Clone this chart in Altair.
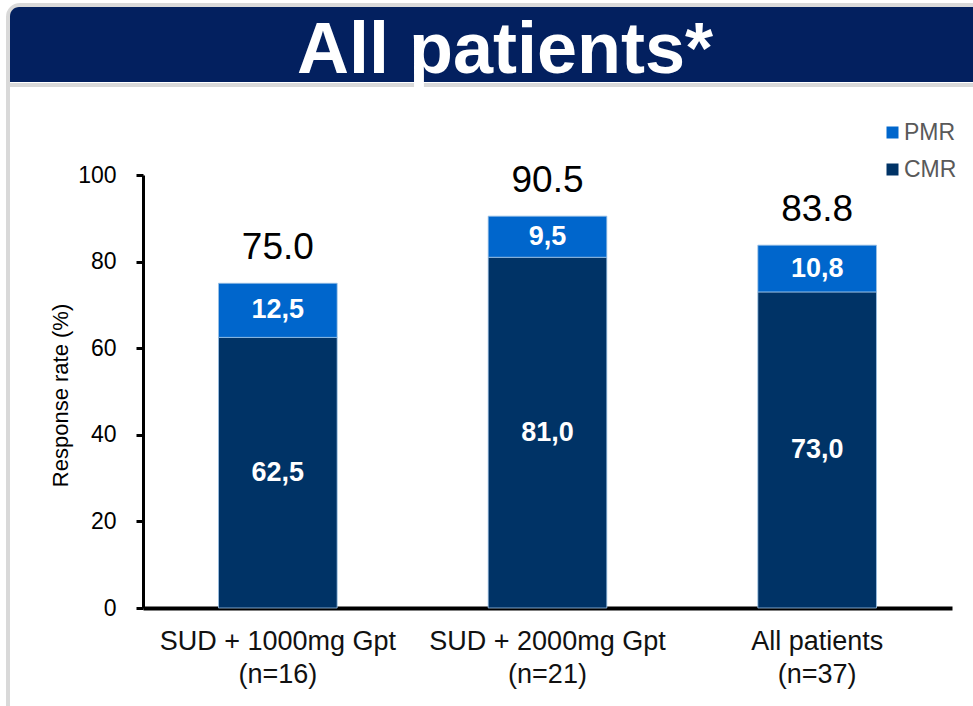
import altair as alt
import pandas as pd

# Response rates (%) per treatment group
group_names = ["SUD + 1000mg Gpt", "SUD + 2000mg Gpt", "All patients"]
group_n = [16, 21, 37]
cmr_values = [62.5, 81.0, 73.0]
pmr_values = [12.5, 9.5, 10.8]
response_types = ["PMR", "CMR"]
response_colors = ["#0066CC", "#003366"]
y_ticks = [0, 20, 40, 60, 80, 100]
header_text = "All patients*"

FONT = "Liberation Sans"
NAVY = "#03205F"
FRAME = "#D9D9D9"

group_keys = [f"{name}|(n={n})" for name, n in zip(group_names, group_n)]

rows = []
for key, cmr, pmr in zip(group_keys, cmr_values, pmr_values):
    rows.append({"group": key, "response": "CMR", "value": cmr, "lo": 0.0, "hi": cmr})
    rows.append({"group": key, "response": "PMR", "value": pmr, "lo": cmr, "hi": cmr + pmr})
segments = pd.DataFrame(rows)
segments["mid"] = (segments["lo"] + segments["hi"]) / 2
segments["label"] = segments["value"].map(lambda v: f"{v:.1f}".replace(".", ","))

totals = pd.DataFrame({
    "group": group_keys,
    "total": [c + p for c, p in zip(cmr_values, pmr_values)],
})
totals["label"] = totals["total"].map(lambda v: f"{v:.1f}")

x_enc = alt.X(
    "group:N",
    sort=group_keys,
    scale=alt.Scale(paddingInner=0.56, paddingOuter=0.28),
    axis=alt.Axis(
        title=None,
        labelExpr="split(datum.label, '|')",
        labelAngle=0,
        labelLimit=0,
        labelFont=FONT,
        labelFontSize=27,
        labelLineHeight=33,
        labelColor="#111111",
        labelPadding=20,
        ticks=False,
        domainColor="#000000",
        domainWidth=4,
        grid=False,
    ),
)

y_scale = alt.Scale(domain=[0, 100], nice=False, zero=True)

bars = alt.Chart(segments).mark_bar(stroke="#9DC3E6", strokeWidth=0.8).encode(
    x=x_enc,
    y=alt.Y(
        "lo:Q",
        scale=y_scale,
        axis=alt.Axis(
            title="Response rate (%)",
            titleFont=FONT,
            titleFontSize=22,
            titleFontWeight="normal",
            titleColor="#000000",
            titlePadding=5,
            titleY=220,
            values=y_ticks,
            labelFont=FONT,
            labelFontSize=23,
            labelColor="#000000",
            labelPadding=20,
            tickSize=7,
            tickWidth=3,
            tickColor="#000000",
            domainColor="#000000",
            domainWidth=3,
            grid=False,
        ),
    ),
    y2="hi:Q",
    color=alt.Color(
        "response:N",
        scale=alt.Scale(domain=response_types, range=response_colors),
        legend=alt.Legend(
            title=None,
            orient="none",
            legendX=738,
            legendY=-54,
            symbolType="square",
            symbolSize=144,
            symbolStrokeWidth=0,
            labelFont=FONT,
            labelFontSize=23,
            labelColor="#595959",
            labelOffset=0,
            rowPadding=13,
            padding=0,
        ),
    ),
)

inner_labels = alt.Chart(segments).mark_text(
    font=FONT, fontSize=27, fontWeight="bold", color="#FFFFFF", baseline="middle"
).encode(
    x=alt.X("group:N", sort=group_keys),
    y=alt.Y("mid:Q", scale=y_scale),
    text="label:N",
)

total_labels = alt.Chart(totals).mark_text(
    font=FONT, fontSize=37, color="#000000", baseline="alphabetic", dy=-24
).encode(
    x=alt.X("group:N", sort=group_keys),
    y=alt.Y("total:Q", scale=y_scale),
    text="label:N",
)

# Slide frame and header banner
blank = alt.Data(values=[{}])
frame = alt.Chart(blank).mark_rect(
    fill=None, stroke=FRAME, strokeWidth=4, cornerRadius=12
).encode(
    x=alt.value(-135), x2=alt.value(860), y=alt.value(-170), y2=alt.value(560)
)
header = alt.Chart(blank).mark_rect(
    fill=NAVY, cornerRadiusTopLeft=9
).encode(
    x=alt.value(-133), x2=alt.value(860), y=alt.value(-168), y2=alt.value(-93)
)
header_rule = alt.Chart(blank).mark_rect(fill=FRAME).encode(
    x=alt.value(-133), x2=alt.value(860), y=alt.value(-92), y2=alt.value(-88)
)
header_title = alt.Chart(blank).mark_text(
    text=header_text, font=FONT, fontSize=72, fontWeight="bold",
    color="#FFFFFF", align="center", baseline="alphabetic"
).encode(x=alt.value(362), y=alt.value(-102))

chart = alt.layer(
    frame, header, header_rule, header_title, bars, inner_labels, total_labels
).properties(
    width=809,
    height=433,
    padding={"left": 143, "top": 175, "right": 21, "bottom": 98},
    autosize=alt.AutoSizeParams(type="none"),
    background="#FFFFFF",
).configure_view(stroke=None)

chart.save("out.html", embed_options={"renderer": "svg", "actions": False})
